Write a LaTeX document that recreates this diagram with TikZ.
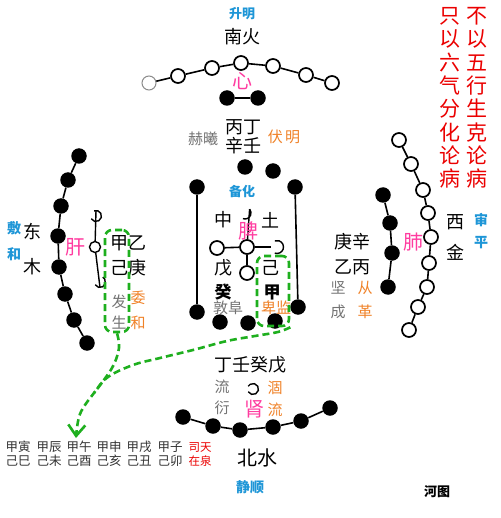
\documentclass[tikz,border=0pt]{standalone}
\usepackage{fontspec}
\setmainfont{Noto Sans CJK SC}
\usetikzlibrary{arrows.meta}
\definecolor{hblue}{RGB}{30,150,215}
\definecolor{hpink}{RGB}{255,60,160}
\definecolor{horange}{RGB}{240,130,40}
\definecolor{hgray}{RGB}{115,115,115}
\definecolor{hred}{RGB}{235,0,0}
\definecolor{hgreen}{RGB}{30,175,30}
\begin{document}
\begin{tikzpicture}[x=1pt,y=-1pt,
  oc/.style={circle,draw,fill=white,line width=1.7pt,minimum size=14pt,inner sep=0pt},
  sc/.style={circle,draw,fill=white,line width=1.4pt,minimum size=11pt,inner sep=0pt},
  bd/.style={circle,fill=black,minimum size=15.5pt,inner sep=0pt},
  lk/.style={line width=1.6pt},
  big/.style={inner sep=0pt,font=\fontsize{18}{19}\selectfont},
  organ/.style={inner sep=0pt,text=hpink,font=\fontsize{20}{20}\selectfont},
  glbl/.style={inner sep=0pt,text=hgray,font=\fontsize{15}{15}\selectfont},
  olbl/.style={inner sep=0pt,text=horange,font=\fontsize{15}{15}\selectfont},
  blbl/.style={inner sep=0pt,text=hblue,font=\bfseries\fontsize{13}{13}\selectfont},
  tbl/.style={inner sep=0pt,text=black!80,font=\fontsize{12.5}{13}\selectfont},
  rtbl/.style={inner sep=0pt,text=hred,font=\fontsize{11.5}{13}\selectfont},
  redcol/.style={inner sep=0pt,text=hred,align=center,font=\fontsize{21}{23.3}\selectfont},
  gdash/.style={draw=hgreen,line width=2.6pt,dash pattern=on 7pt off 4pt},
  gbox/.style={gdash,rounded corners=7pt,inner sep=0pt}
]
\useasboundingbox (0,0) rectangle (500,518);
\fill[white] (0,0) rectangle (500,518);

% ---------- top (south, fire) ----------
\node[oc,draw=black!45,line width=1pt] (t0) at (149,83) {};
\node[oc] (t1) at (178,76) {};
\node[oc] (t2) at (212,68) {};
\node[oc] (t3) at (241,63) {};
\node[oc] (t4) at (273,66) {};
\node[oc] (t5) at (306,75) {};
\node[oc] (t6) at (332,83) {};
\draw[lk] (t0)--(t1)--(t2)--(t3)--(t4)--(t5)--(t6);
\node[bd] (tb1) at (227,98) {};
\node[bd] (tb2) at (258,98) {};
\draw[lk] (tb1)--(tb2);
\node[blbl] (shengming) at (242,14) {升明};
\node[big] (nanhuo) at (242,37) {南火};
\node[organ] (xin) at (242,81) {心};
\node[big] (bingding) at (243,127) {丙丁};
\node[big] (xinren) at (243,146) {辛壬};
\node[glbl] (hexi) at (203,139) {赫曦};
\node[olbl] (fuming) at (284,137) {伏\,明};

% ---------- right red text ----------
\node[redcol] (colA) at (477,98) {不\\以\\五\\行\\生\\克\\论\\病};
\node[redcol] (colB) at (450,98) {只\\以\\六\\气\\分\\化\\论\\病};

% ---------- left (east, wood) ----------
\node[bd] (l1) at (79,156) {};
\node[bd] (l2) at (68,180) {};
\node[bd] (l3) at (61,206) {};
\node[bd] (l4) at (58,236) {};
\node[bd] (l5) at (59,267) {};
\node[bd] (l6) at (65,294) {};
\node[bd] (l7) at (74,320) {};
\node[bd] (l8) at (87,343) {};
\draw[lk] (l1)--(l2)--(l3)--(l4)--(l5)--(l6)--(l7)--(l8);
\coordinate (la) at (96,216);
\coordinate (lc) at (100,282);
\node[sc] (lm) at (95,247) {};
\draw[line width=1.4pt] ([shift={(150:5.5)}]la) arc[start angle=150,end angle=-110,radius=5.5];
\draw[line width=1.4pt] ([shift={(150:5.5)}]lc) arc[start angle=150,end angle=-60,radius=5.5];
\draw[line width=1.4pt] ([yshift=5.5pt]la) -- (lm);
\draw[line width=1.4pt] (lm) -- ([yshift=-5.5pt]lc);
\node[blbl,font=\bfseries\fontsize{14}{14}\selectfont] (fu) at (14,228) {敷};
\node[blbl,font=\bfseries\fontsize{14}{14}\selectfont] (he) at (14,254) {和};
\node[big] (dong) at (32,232) {东};
\node[big] (mu) at (32,267) {木};
\node[organ] (gan) at (75,247) {肝};
\node[big] (jiayi) at (128,243) {甲乙};
\node[big] (jigeng) at (128,268) {己庚};
\node[glbl] (fa) at (119,302) {发};
\node[glbl] (sheng) at (119,323) {生};
\node[olbl] (wei) at (138,298) {委};
\node[olbl] (he2) at (138,323) {和};

% ---------- centre (earth) ----------
\node[bd] (c1) at (245,167) {};
\node[bd] (c2) at (273,171) {};
\node[bd] (c3) at (197,187) {};
\node[bd] (c4) at (295,187) {};
\node[bd] (c5) at (197,312) {};
\node[bd] (c6) at (220,322) {};
\node[bd] (c7) at (248,323) {};
\node[bd] (c8) at (275,321) {};
\node[bd] (c9) at (298,307) {};
\draw[lk] (c3)--(c5);
\draw[lk] (c4)--(c9);
\node[oc] (xm) at (247,247) {};
\node[oc] (xl) at (217,248) {};
\node[oc] (xb) at (247,273) {};
\coordinate (xt) at (245,213);
\coordinate (xr) at (277,247);
\draw[line width=1.4pt] ([shift={(110:6)}]xt) arc[start angle=110,end angle=-40,radius=6];
\draw[line width=1.4pt] ([shift={(110:6.5)}]xr) arc[start angle=110,end angle=-110,radius=6.5];
\draw[lk] (xl)--(xm);
\draw[lk] (xm)--([xshift=-6.5pt]xr);
\draw[lk] (xm)--(xb);
\draw[line width=1.4pt] (xm) -- ([shift={(-40:6)}]xt);
\node[blbl] (beihua) at (242,192) {备化};
\node[big] (zhong) at (223,220) {中};
\node[big] (tu) at (270,220) {土};
\node[organ] (pi) at (248,231) {脾};
\node[big] (wu) at (223,268) {戊};
\node[big] (ji) at (270,268) {己};
\node[big,font=\bfseries\fontsize{17}{17}\selectfont] (gui) at (223,292) {癸};
\node[big,font=\bfseries\fontsize{17}{17}\selectfont] (jia) at (272,292) {甲};
\node[glbl] (dunfu) at (228,308) {敦阜};
\node[olbl] (beijian) at (276,308) {卑监};

% ---------- right (west, metal) ----------
\node[bd] (r1) at (383,195) {};
\node[bd] (r2) at (390,223) {};
\node[bd] (r3) at (392,253) {};
\node[bd] (r4) at (388,287) {};
\draw[lk] (r1)--(r2)--(r3)--(r4);
\node[oc] (w1) at (399,140) {};
\node[oc] (w2) at (411,164) {};
\node[oc] (w3) at (423,190) {};
\node[oc] (w4) at (428,213) {};
\node[oc] (w5) at (431,237) {};
\node[oc] (w6) at (429,263) {};
\node[oc] (w7) at (427,287) {};
\node[oc] (w8) at (418,307) {};
\node[oc] (w9) at (409,330) {};
\draw[lk] (w1)--(w2)--(w3)--(w4)--(w5)--(w6)--(w7)--(w8)--(w9);
\node[big] (gengxin) at (352,242) {庚辛};
\node[big] (yibing) at (352,267) {乙丙};
\node[glbl] (jian) at (338,288) {坚};
\node[glbl] (cheng) at (338,312) {成};
\node[olbl] (cong) at (365,288) {从};
\node[olbl] (ge) at (365,312) {革};
\node[organ] (fei) at (413,242) {肺};
\node[big] (xi) at (455,222) {西};
\node[big] (jin) at (455,252) {金};
\node[blbl,font=\bfseries\fontsize{14}{14}\selectfont] (shen) at (481,220) {审};
\node[blbl,font=\bfseries\fontsize{14}{14}\selectfont] (ping) at (481,243) {平};

% ---------- bottom (north, water) ----------
\node[bd] (b1) at (183,417) {};
\node[bd] (b2) at (213,426) {};
\node[bd] (b3) at (240,430) {};
\node[bd] (b4) at (273,427) {};
\node[bd] (b5) at (301,421) {};
\node[bd] (b6) at (330,408) {};
\draw[lk] (b1)--(b2)--(b3)--(b4)--(b5)--(b6);
\coordinate (ba) at (253,389);
\draw[line width=1.4pt] ([shift={(150:5.5)}]ba) arc[start angle=150,end angle=-150,radius=5.5];
\node[big] (dingren) at (250,365) {丁壬癸戊};
\node[glbl] (liu) at (222,387) {流};
\node[glbl] (yan) at (222,408) {衍};
\node[olbl] (hu) at (275,388) {涸};
\node[olbl] (liu2) at (275,410) {流};
\node[organ] (shen2) at (254,409) {肾};
\node[big,font=\fontsize{20}{20}\selectfont] (beishui) at (257,458) {北水};
\node[blbl,font=\bfseries\fontsize{14}{14}\selectfont] (jingshun) at (250,487) {静顺};

% ---------- table ----------
\node[tbl] (a1) at (18,447) {甲寅};
\node[tbl] (a2) at (49,447) {甲辰};
\node[tbl] (a3) at (79,447) {甲午};
\node[tbl] (a4) at (109,447) {甲申};
\node[tbl] (a5) at (139,447) {甲戌};
\node[tbl] (a6) at (170,447) {甲子};
\node[rtbl] (a7) at (200,447) {司天};
\node[tbl] (b1t) at (18,461) {己巳};
\node[tbl] (b2t) at (49,461) {己未};
\node[tbl] (b3t) at (79,461) {己酉};
\node[tbl] (b4t) at (109,461) {己亥};
\node[tbl] (b5t) at (139,461) {己丑};
\node[tbl] (b6t) at (170,461) {己卯};
\node[rtbl] (b7t) at (200,461) {在泉};

\node[inner sep=0pt,font=\bfseries\fontsize{13}{13}\selectfont] (hetu) at (437,492) {河图};

% ---------- green dashed marks ----------
\node[gbox,minimum width=24pt,minimum height=102pt] (gl) at (117,281) {};
\node[gbox,minimum width=32pt,minimum height=70pt] (gc) at (273,291) {};
\coordinate (mg) at (94,393);
\coordinate (tip) at (76,438);
\draw[gdash] plot[smooth,tension=0.6] coordinates {(gl.south) (119,348) (112,368) (mg)};
\draw[gdash,-{Straight Barb[length=11pt,width=17pt]}] plot[smooth,tension=0.6] coordinates {(gc.south east) (278,332) (255,336) (227,341) (193,350) (160,358) (133,365) (108,377) (mg) (80,414) (tip)};
\end{tikzpicture}
\end{document}
